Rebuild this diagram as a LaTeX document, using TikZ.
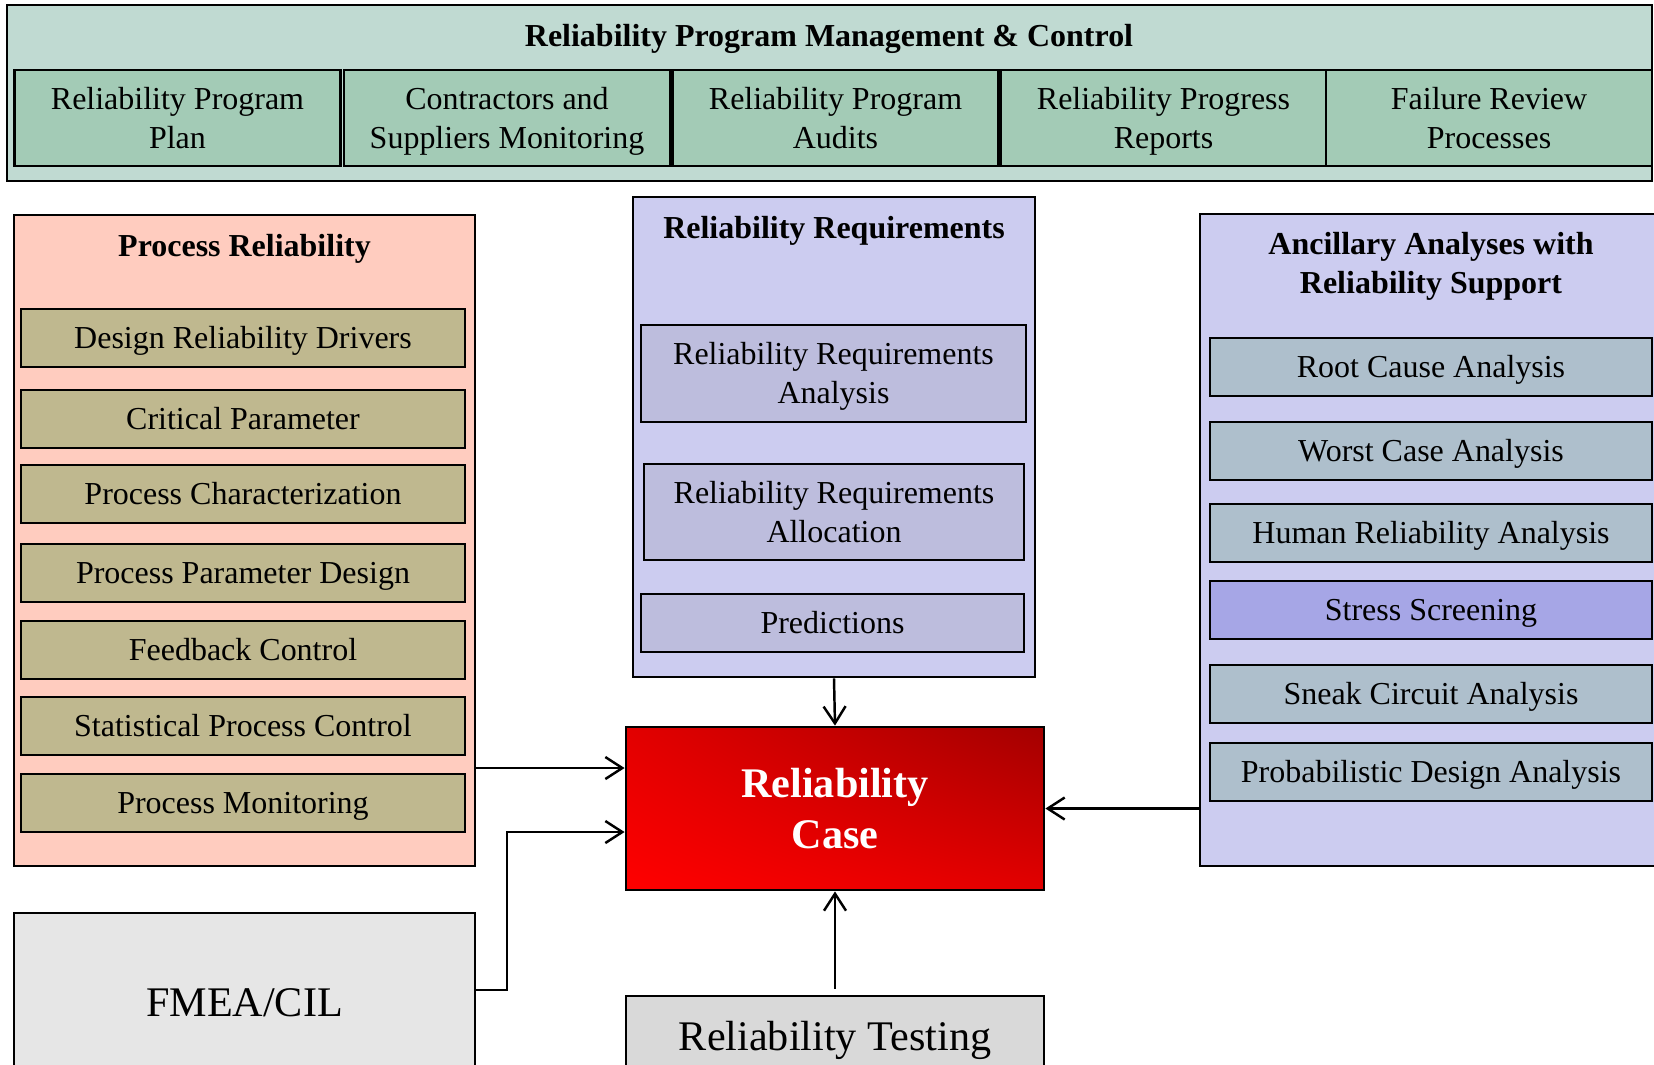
\documentclass[tikz,border=0pt]{standalone}
\usepackage{fontspec}
\setmainfont{Liberation Serif}
\usepackage{tikz}
\usetikzlibrary{arrows.meta,shadings}
\tikzset{>={Straight Barb[length=1.7mm,width=2.2mm]}}
\newcommand{\tstrut}{\rule[-0.216em]{0pt}{1.107em}}
\definecolor{mgmtbg}{RGB}{192,218,210}
\definecolor{mgmtitem}{RGB}{163,203,182}
\definecolor{procbg}{RGB}{255,204,191}
\definecolor{procitem}{RGB}{191,184,143}
\definecolor{reqbg}{RGB}{204,204,240}
\definecolor{reqitem}{RGB}{189,189,221}
\definecolor{ancitem}{RGB}{174,191,204}
\definecolor{stressitem}{RGB}{166,166,230}
\definecolor{fmeabg}{RGB}{230,230,230}
\definecolor{testbg}{RGB}{217,217,217}
\definecolor{caseul}{RGB}{226,0,0}
\definecolor{caseur}{RGB}{163,0,0}
\definecolor{casell}{RGB}{255,0,0}
\definecolor{caselr}{RGB}{226,0,0}
\tikzset{
  box/.style={draw, line width=0.8pt, inner sep=0pt, align=center, font=\fontsize{9.1}{11.1}\selectfont,
    execute at begin node=\tstrut, execute at end node=\tstrut},
  head/.style={align=center, font=\fontsize{9.1}{11.1}\selectfont\bfseries,
    execute at begin node=\tstrut, execute at end node=\tstrut},
  big/.style={draw, line width=0.8pt, inner sep=0pt, align=center, font=\fontsize{12}{14.4}\selectfont,
    execute at begin node=\tstrut, execute at end node=\tstrut},
  flow/.style={->, line width=0.7pt},
}

\begin{document}
\begin{tikzpicture}
\useasboundingbox (0,0) rectangle (16.54,-10.64);

\node[box, fill=mgmtbg, minimum width=16.45cm, minimum height=1.76cm] (mgmt) at (8.295,-0.93) {};
\node[head] (mgmttitle) at (8.29,-0.36) {Reliability Program Management \& Control};
\foreach \n/\x/\t in {1/1.775/{Reliability Program\\Plan}, 2/5.07/{Contractors and\\Suppliers Monitoring}, 3/8.355/{Reliability Program\\Audits}, 4/11.635/{Reliability Progress\\Reports}, 5/14.89/{Failure Review\\Processes}}{
\node[box, fill=mgmtitem, minimum width=3.26cm, minimum height=0.96cm] (m\n) at (\x,-1.18) {\tstrut\t};
}

\node[box, fill=procbg, minimum width=4.61cm, minimum height=6.51cm] (proc) at (2.445,-5.405) {};
\node[head] (proctitle) at (2.445,-2.46) {Process Reliability};
\foreach \n/\y/\t in {1/3.38/Design Reliability Drivers, 2/4.19/Critical Parameter, 3/4.94/Process Characterization, 4/5.73/Process Parameter Design, 5/6.50/Feedback Control, 6/7.26/Statistical Process Control, 7/8.03/Process Monitoring}{
\node[box, fill=procitem, minimum width=4.44cm, minimum height=0.58cm] (p\n) at (2.43,-\y) {\t};
}

\node[box, fill=reqbg, minimum width=4.02cm, minimum height=4.80cm] (req) at (8.34,-4.37) {};
\node[head] (reqtitle) at (8.34,-2.28) {Reliability Requirements};
\node[box, fill=reqitem, minimum width=3.85cm, minimum height=0.97cm] (r1) at (8.335,-3.735) {\tstrut Reliability Requirements\\Analysis};
\node[box, fill=reqitem, minimum width=3.80cm, minimum height=0.96cm] (r2) at (8.34,-5.12) {\tstrut Reliability Requirements\\Allocation};
\node[box, fill=reqitem, minimum width=3.83cm, minimum height=0.58cm] (r3) at (8.325,-6.23) {Predictions};

\node[box, fill=reqbg, minimum width=4.62cm, minimum height=6.52cm] (anc) at (14.31,-5.40) {};
\node[head] (anctitle) at (14.31,-2.63) {\tstrut Ancillary Analyses with\\Reliability Support};
\foreach \n/\y/\c/\t in {1/3.67/ancitem/Root Cause Analysis, 2/4.51/ancitem/Worst Case Analysis, 3/5.33/ancitem/Human Reliability Analysis, 4/6.10/stressitem/Stress Screening, 5/6.94/ancitem/Sneak Circuit Analysis, 6/7.72/ancitem/Probabilistic Design Analysis}{
\node[box, fill=\c, minimum width=4.42cm, minimum height=0.58cm] (a\n) at (14.31,-\y) {\t};
}

\node[big, shade, shading=bilinear interpolation, upper left=caseul, upper right=caseur, lower left=casell, lower right=caselr, text=white, font=\fontsize{12}{14.4}\selectfont\bfseries, minimum width=4.18cm, minimum height=1.63cm] (case) at (8.35,-8.085) {\tstrut Reliability\\Case};
\node[big, fill=fmeabg, minimum width=4.61cm, minimum height=1.78cm] (fmea) at (2.445,-10.02) {FMEA/CIL};
\node[big, fill=testbg, minimum width=4.18cm, minimum height=0.80cm] (test) at (8.35,-10.36) {Reliability Testing};

\draw[flow] (req.south) -- (case.north);
\draw[flow] (proc.east |- 0,-7.68) -- (case.west |- 0,-7.68);
\draw[flow] (fmea.east |- 0,-9.90) -| (5.07,-8.32) -- (case.west |- 0,-8.32);
\draw[flow] ([yshift=0.06cm]test.north) -- (case.south);
\draw[flow] (anc.west |- case.east) -- (case.east);
\end{tikzpicture}
\end{document}
